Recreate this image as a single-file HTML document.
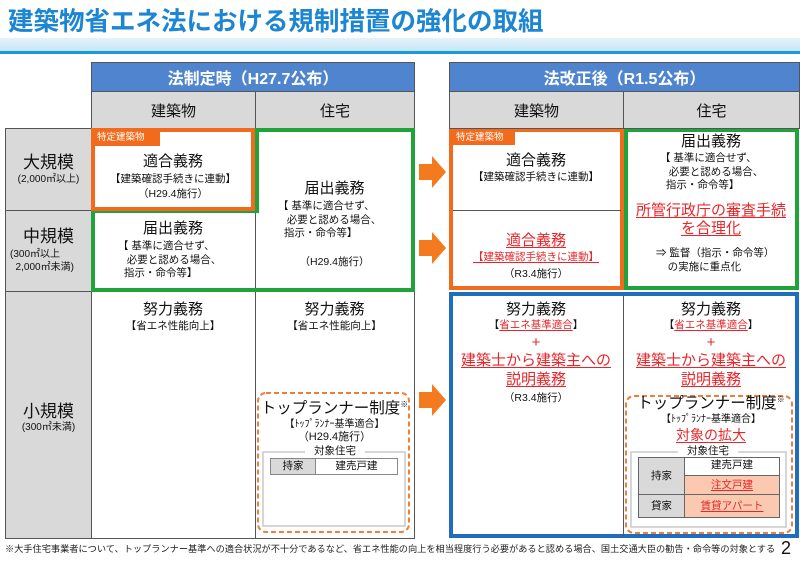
<!DOCTYPE html>
<html><head><meta charset="utf-8"><style>
*{margin:0;padding:0;box-sizing:border-box}
body{width:800px;height:566px;background:#fff;position:relative;overflow:hidden;font-family:"Liberation Sans","Noto Sans CJK JP",sans-serif;color:#111}
.a{position:absolute}
.t{position:absolute;text-align:center;white-space:nowrap;line-height:1}
.r{color:#e8262a}
.u{text-decoration:underline;text-decoration-thickness:1px;text-underline-offset:2px}
.g{background:#d9d9d9}
.hd{background:#4f85cf;color:#fff;font-weight:bold;font-size:16px;display:flex;align-items:center;justify-content:center;border:1px solid #555}
.sh{background:#d9d9d9;font-size:15px;display:flex;align-items:center;justify-content:center;border:1px solid #555}
</style></head><body>
<div class="t" style="left:8px;top:10px;font-size:25.5px;font-weight:bold;color:#1d86d3;text-align:left">建築物省エネ法における規制措置の強化の取組</div>
<div class="a" style="left:0;top:38px;width:800px;height:13px;background:linear-gradient(#e4f3fa,#c7e6f5)"></div>
<div class="a" style="left:0;top:51px;width:800px;height:3px;background:#1a9ad6"></div>

<div class="a hd" style="left:91px;top:62px;width:324px;height:30px">法制定時（H27.7公布）</div>
<div class="a sh" style="left:91px;top:91px;width:165px;height:38px">建築物</div>
<div class="a sh" style="left:255px;top:91px;width:160px;height:38px">住宅</div>
<div class="a g" style="left:5px;top:128px;width:87px;height:411px;border:1px solid #555"></div>
<div class="a" style="left:5px;top:210px;width:87px;height:1px;background:#555"></div>
<div class="a" style="left:5px;top:291px;width:87px;height:1px;background:#555"></div>
<div class="a" style="left:91px;top:128px;width:324px;height:411px;border:1px solid #555"></div>
<div class="a" style="left:91px;top:291px;width:324px;height:1px;background:#555"></div>
<div class="a" style="left:255px;top:128px;width:1px;height:411px;background:#555"></div>
<svg class="a" style="left:0;top:0" width="800" height="566">
<polygon points="257,130 413,130 413,290 93,290 93,211 257,211" fill="none" stroke="#1fa33a" stroke-width="4"/>
<rect x="93" y="130" width="160" height="79" fill="none" stroke="#f26a1b" stroke-width="4"/>
<rect x="451" y="130" width="171" height="158" fill="none" stroke="#f26a1b" stroke-width="4"/>
<rect x="626" y="130" width="171" height="158" fill="none" stroke="#1fa33a" stroke-width="4"/>
<rect x="451" y="294" width="346" height="242" fill="none" stroke="#1e6dbf" stroke-width="4"/>
<rect x="258" y="393" width="151" height="139" rx="8" fill="none" stroke="#ef7d3c" stroke-width="2" stroke-dasharray="5,3"/>
<rect x="626" y="396" width="166" height="137" rx="8" fill="none" stroke="#ef7d3c" stroke-width="2" stroke-dasharray="5,3"/>
<rect x="263" y="452" width="142" height="74" fill="none" stroke="#c8c8c8" stroke-width="1.5"/>
<rect x="631" y="452" width="155" height="75" fill="none" stroke="#c8c8c8" stroke-width="1.5"/>
<polygon points="419,164 432,164 432,156 446,172 432,188 432,180 419,180" fill="#f47a1f"/>
<polygon points="419,240 432,240 432,232 446,248 432,264 432,256 419,256" fill="#f47a1f"/>
<polygon points="419,392 432,392 432,384 446,400 432,416 432,408 419,408" fill="#f47a1f"/>
</svg>
<div class="a" style="left:92px;top:130px;width:68px;height:16px;background:#f26a1b;color:#fff;font-size:9.5px;line-height:16px;padding-left:5px">特定建築物</div>

<div class="t" style="left:5px;width:87px;top:154px;font-size:17px">大規模</div>
<div class="t" style="left:5px;width:87px;top:175px;font-size:10px">(2,000㎡以上)</div>
<div class="t" style="left:5px;width:87px;top:228px;font-size:17px">中規模</div>
<div class="t" style="left:10px;top:248px;font-size:10px;text-align:left;line-height:13px">(300㎡以上<br>&nbsp;&nbsp;2,000㎡未満)</div>
<div class="t" style="left:5px;width:87px;top:403px;font-size:17px">小規模</div>
<div class="t" style="left:5px;width:87px;top:423px;font-size:10px">(300㎡未満)</div>

<div class="t" style="left:91px;width:164px;top:154px;font-size:15px">適合義務</div>
<div class="t" style="left:91px;width:164px;top:174px;font-size:10.5px">【建築確認手続きに連動】</div>
<div class="t" style="left:91px;width:164px;top:189px;font-size:10.5px">（H29.4施行）</div>

<div class="t" style="left:255px;width:159px;top:181px;font-size:15px">届出義務</div>
<div class="t" style="left:278px;top:200px;font-size:10.5px;text-align:left;line-height:13.5px">【 基準に適合せず、<br>&nbsp;&nbsp;&nbsp;必要と認める場合、<br>&nbsp;&nbsp;指示・命令等】</div>
<div class="t" style="left:255px;width:159px;top:257px;font-size:10.5px">（H29.4施行）</div>

<div class="t" style="left:91px;width:164px;top:221px;font-size:15px">届出義務</div>
<div class="t" style="left:118px;top:240px;font-size:10.5px;text-align:left;line-height:13.5px">【 基準に適合せず、<br>&nbsp;&nbsp;&nbsp;必要と認める場合、<br>&nbsp;&nbsp;指示・命令等】</div>

<div class="t" style="left:91px;width:164px;top:302px;font-size:15px">努力義務</div>
<div class="t" style="left:91px;width:164px;top:321px;font-size:10.5px">【省エネ性能向上】</div>
<div class="t" style="left:255px;width:159px;top:302px;font-size:15px">努力義務</div>
<div class="t" style="left:255px;width:159px;top:321px;font-size:10.5px">【省エネ性能向上】</div>

<div class="t" style="left:255px;width:159px;top:401px;font-size:15.5px">トップランナー制度<sup style="font-size:8px">※</sup></div>
<div class="t" style="left:255px;width:159px;top:420px;font-size:10px">【ﾄｯﾌﾟﾗﾝﾅｰ基準適合】</div>
<div class="t" style="left:255px;width:159px;top:432px;font-size:11px">（H29.4施行）</div>
<div class="t" style="left:305px;width:60px;top:446px;font-size:10.5px;background:#fff">対象住宅</div>
<div class="a g" style="left:270px;top:458px;width:46px;height:17px;border:1px solid #888;font-size:10.5px;text-align:center;line-height:15px">持家</div>
<div class="a" style="left:315px;top:458px;width:83px;height:17px;border:1px solid #888;font-size:10.5px;text-align:center;line-height:15px">建売戸建</div>

<div class="a hd" style="left:449px;top:62px;width:351px;height:30px">法改正後（R1.5公布）</div>
<div class="a sh" style="left:449px;top:91px;width:175px;height:38px">建築物</div>
<div class="a sh" style="left:623px;top:91px;width:177px;height:38px">住宅</div>
<div class="a" style="left:453px;top:210px;width:168px;height:1px;background:#555"></div>
<div class="a" style="left:623px;top:296px;width:1px;height:240px;background:#555"></div>
<div class="a" style="left:451px;top:130px;width:64px;height:15px;background:#f26a1b;color:#fff;font-size:9.5px;line-height:15px;padding-left:5px">特定建築物</div>

<div class="t" style="left:449px;width:174px;top:153px;font-size:15px">適合義務</div>
<div class="t" style="left:449px;width:174px;top:172px;font-size:10.5px">【建築確認手続きに連動】</div>
<div class="t r u" style="left:449px;width:174px;top:233px;font-size:15px">適合義務</div>
<div class="t r u" style="left:449px;width:174px;top:252px;font-size:10.5px">【建築確認手続きに連動】</div>
<div class="t" style="left:449px;width:174px;top:269px;font-size:10.5px">（R3.4施行）</div>

<div class="t" style="left:623px;width:176px;top:134px;font-size:15px">届出義務</div>
<div class="t" style="left:660px;top:152px;font-size:10.5px;text-align:left;line-height:13.5px">【 基準に適合せず、<br>&nbsp;&nbsp;&nbsp;必要と認める場合、<br>&nbsp;&nbsp;指示・命令等】</div>
<div class="t r u" style="left:623px;width:176px;top:203px;font-size:15px">所管行政庁の審査手続</div>
<div class="t r u" style="left:623px;width:176px;top:221px;font-size:15px">を合理化</div>
<div class="t" style="left:656px;top:246px;font-size:10.5px;text-align:left;line-height:14px">⇒ 監督（指示・命令等）<br>&nbsp;&nbsp;&nbsp;&nbsp;の実施に重点化</div>

<div class="t" style="left:449px;width:174px;top:302px;font-size:15px">努力義務</div>
<div class="t" style="left:449px;width:174px;top:320px;font-size:10.5px">【<span class="r u">省エネ基準適合</span>】</div>
<div class="t r" style="left:449px;width:174px;top:335px;font-size:15px">+</div>
<div class="t r u" style="left:449px;width:174px;top:353px;font-size:15px">建築士から建築主への</div>
<div class="t r u" style="left:449px;width:174px;top:372px;font-size:15px">説明義務</div>
<div class="t" style="left:449px;width:174px;top:393px;font-size:10.5px">（R3.4施行）</div>

<div class="t" style="left:623px;width:176px;top:302px;font-size:15px">努力義務</div>
<div class="t" style="left:623px;width:176px;top:320px;font-size:10.5px">【<span class="r u">省エネ基準適合</span>】</div>
<div class="t r" style="left:623px;width:176px;top:335px;font-size:15px">+</div>
<div class="t r u" style="left:623px;width:176px;top:353px;font-size:15px">建築士から建築主への</div>
<div class="t r u" style="left:623px;width:176px;top:372px;font-size:15px">説明義務</div>
<div class="t" style="left:623px;width:176px;top:396px;font-size:15.5px">トップランナー制度<sup style="font-size:8px">※</sup></div>
<div class="t" style="left:623px;width:176px;top:415px;font-size:10px">【ﾄｯﾌﾟﾗﾝﾅｰ基準適合】</div>
<div class="t r u" style="left:623px;width:176px;top:428px;font-size:14px">対象の拡大</div>
<div class="t" style="left:678px;width:60px;top:446px;font-size:10.5px;background:#fff">対象住宅</div>
<div class="a g" style="left:638px;top:457px;width:47px;height:38px;border:1px solid #666;font-size:10.5px;text-align:center;line-height:36px">持家</div>
<div class="a" style="left:684px;top:457px;width:96px;height:19px;border:1px solid #666;font-size:10.5px;text-align:center;line-height:15px">建売戸建</div>
<div class="a r" style="left:684px;top:475px;width:96px;height:20px;border:1px solid #666;background:#fbc9b0;font-size:10.5px;text-align:center;line-height:18px"><span class="u">注文戸建</span></div>
<div class="a g" style="left:638px;top:494px;width:47px;height:24px;border:1px solid #666;font-size:10.5px;text-align:center;line-height:22px">貸家</div>
<div class="a r" style="left:684px;top:494px;width:96px;height:24px;border:1px solid #666;background:#fbc9b0;font-size:10.5px;text-align:center;line-height:22px"><span class="u">賃貸アパート</span></div>

<div class="t" style="left:5px;top:545px;font-size:9.2px;text-align:left;color:#222">※大手住宅事業者について、トップランナー基準への適合状況が不十分であるなど、省エネ性能の向上を相当程度行う必要があると認める場合、国土交通大臣の勧告・命令等の対象とする</div>
<div class="t" style="left:781px;top:539px;font-size:18px;text-align:left">2</div>
</body></html>
